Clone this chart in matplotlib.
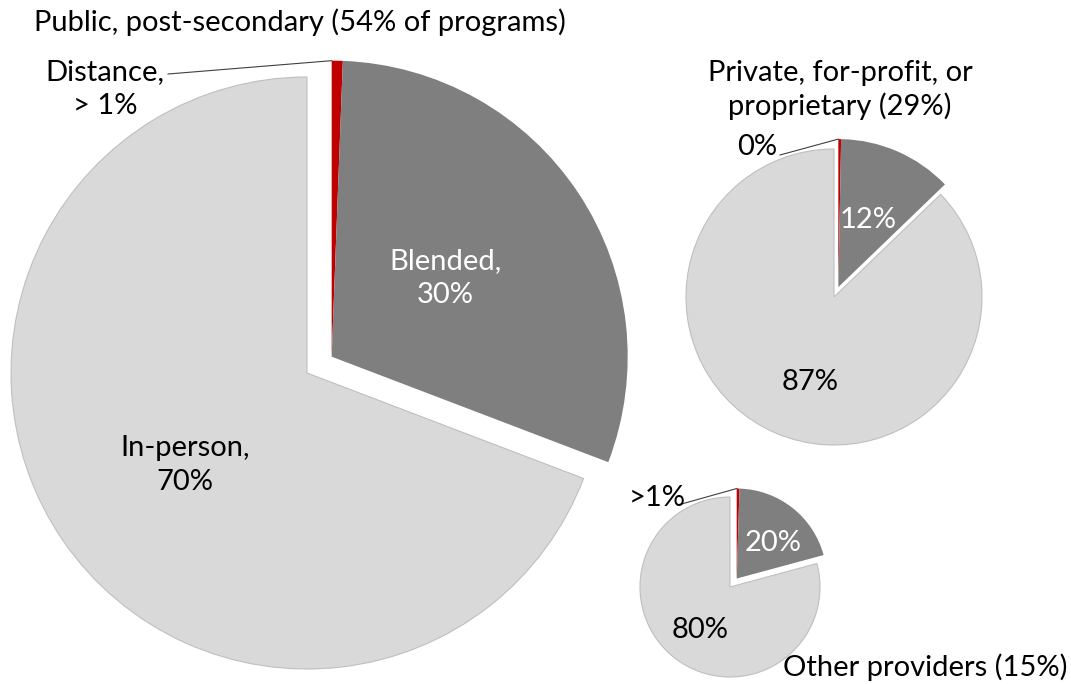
import numpy as np
import matplotlib.pyplot as plt

plt.rcParams['font.family'] = ['Lato', 'DejaVu Sans']

W, H = 1071, 684

# shares: distance, blended, in-person
public_vals = [0.6, 30.2, 69.2]
private_vals = [0.3, 12.5, 87.2]
other_vals = [0.5, 20.3, 79.2]

public_labels = ['Distance,\n> 1%', 'Blended,\n30%', 'In-person,\n70%']
private_labels = ['0%', '12%', '87%']
other_labels = ['>1%', '20%', '80%']

titles = ['Public, post-secondary (54% of programs)',
          'Private, for-profit, or\nproprietary (29%)',
          'Other providers (15%)']

colors = ['#C00000', '#7F7F7F', '#D9D9D9']
FS = 21


def draw_pie(ax, vals, cx, cy, r, expl):
    # pixel coords -> data coords (y up); pie's explode is in data units
    wedges, _ = ax.pie(vals, colors=colors, startangle=90, counterclock=False,
                       center=(cx, H - cy), radius=r,
                       explode=[0, expl * r, 0], frame=True)
    # the tiny red slice sits with the exploded grey one
    wedges[0].set_center(wedges[1].center)
    wedges[2].set_edgecolor('#BFBFBF')
    wedges[2].set_linewidth(0.8)
    for w in wedges[:2]:
        w.set_linewidth(0)
    return wedges


def leader(ax, wedge, x0, y0):
    th = np.radians(wedge.theta2)
    cx, cy = wedge.center
    x1 = cx + wedge.r * np.cos(th)
    y1 = cy + wedge.r * np.sin(th)
    ax.plot([x0, x1], [H - y0, y1], color='#404040', lw=0.8)


fig = plt.figure(figsize=(W / 100, H / 100), dpi=100)
ax = fig.add_axes([0, 0, 1, 1])

wp = draw_pie(ax, public_vals, 307, 373, 296, 0.1)
wm = draw_pie(ax, private_vals, 834, 297, 148, 0.073)
ws = draw_pie(ax, other_vals, 730, 587, 90, 0.12)

ax.set_xlim(0, W)
ax.set_ylim(0, H)
ax.set_aspect('equal')
ax.axis('off')

# public
ax.text(300, H - 22, titles[0], ha='center', va='center', fontsize=FS)
ax.text(105, H - 89, public_labels[0], ha='center', va='center', fontsize=FS,
        linespacing=1.35)
leader(ax, wp[0], 168, 74)
ax.text(445, H - 278, public_labels[1], ha='center', va='center', fontsize=FS,
        color='white', linespacing=1.35)
ax.text(185, H - 465, public_labels[2], ha='center', va='center', fontsize=FS,
        linespacing=1.35)

# private
ax.text(840, H - 90, titles[1], ha='center', va='center', fontsize=FS,
        linespacing=1.25)
ax.text(757, H - 147, private_labels[0], ha='center', va='center', fontsize=FS)
leader(ax, wm[0], 780, 155)
ax.text(868, H - 220, private_labels[1], ha='center', va='center', fontsize=FS,
        color='white')
ax.text(810, H - 382, private_labels[2], ha='center', va='center', fontsize=FS)

# other
ax.text(657, H - 498, other_labels[0], ha='center', va='center', fontsize=FS)
leader(ax, ws[0], 678, 505)
ax.text(773, H - 543, other_labels[1], ha='center', va='center', fontsize=FS,
        color='white')
ax.text(700, H - 630, other_labels[2], ha='center', va='center', fontsize=FS)
ax.text(925, H - 667, titles[2], ha='center', va='center', fontsize=FS)

plt.savefig('out.png', dpi=100)
